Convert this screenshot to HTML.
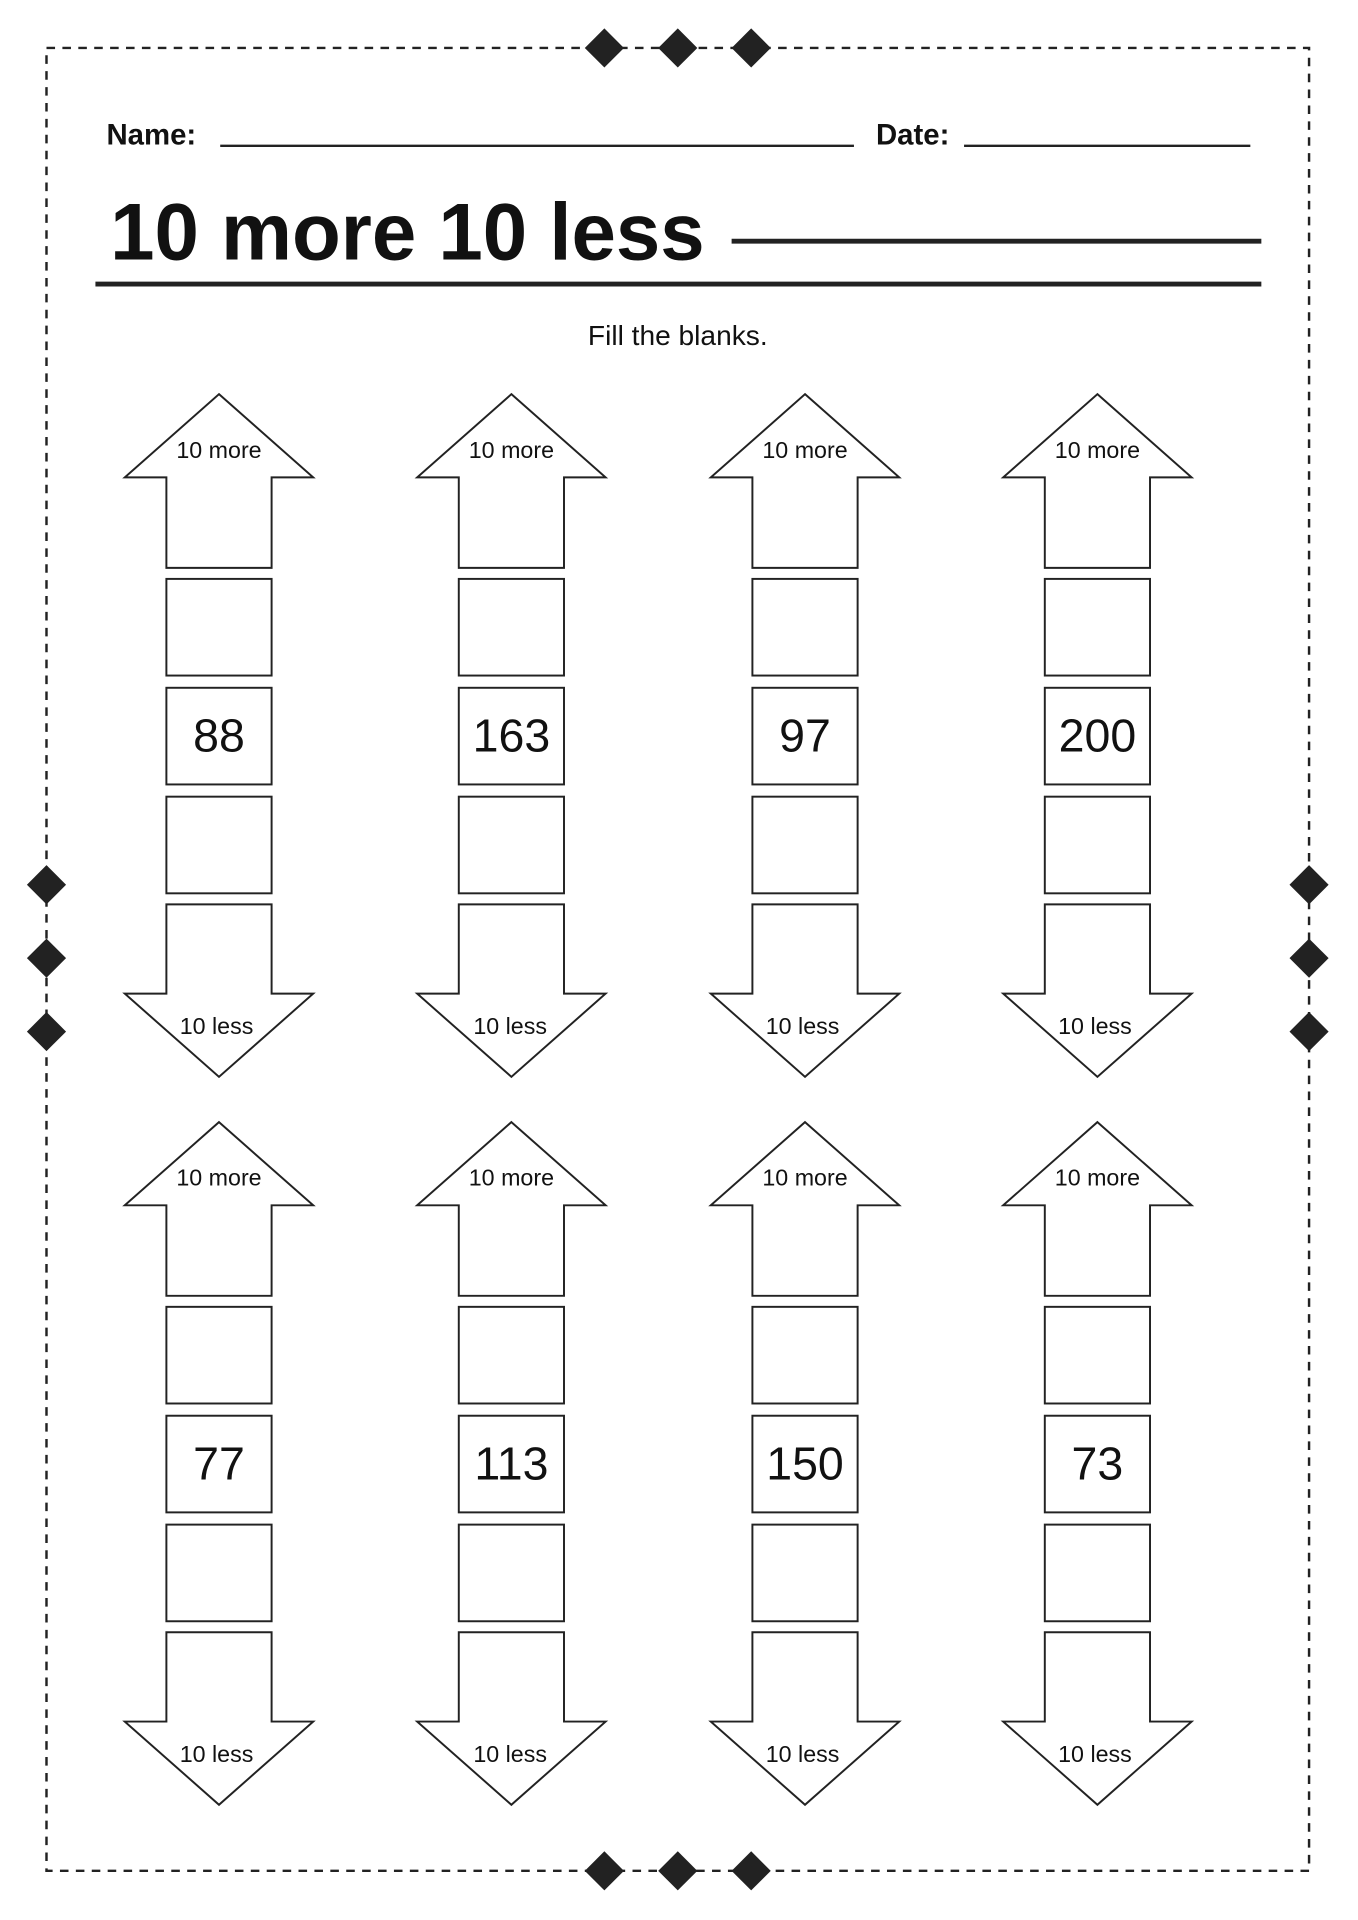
<!DOCTYPE html>
<html><head><meta charset="utf-8"><style>
html,body{margin:0;padding:0;background:#fff}
svg{display:block}
text{font-family:"Liberation Sans",sans-serif;fill:#111}
</style></head><body>
<svg width="1358" height="1920" viewBox="0 0 1110 1569" xmlns="http://www.w3.org/2000/svg">
<rect x="38" y="39" width="1032" height="1490" fill="none" stroke="#222" stroke-width="2" stroke-dasharray="7,6"/>
<g fill="#222">
<path d="M494 23l16 16-16 16-16-16z"/><path d="M554 23l16 16-16 16-16-16z"/><path d="M614 23l16 16-16 16-16-16z"/>
<path d="M494 1513l16 16-16 16-16-16z"/><path d="M554 1513l16 16-16 16-16-16z"/><path d="M614 1513l16 16-16 16-16-16z"/>
<path d="M38 707l16 16-16 16-16-16z"/><path d="M38 767l16 16-16 16-16-16z"/><path d="M38 827l16 16-16 16-16-16z"/>
<path d="M1070 707l16 16-16 16-16-16z"/><path d="M1070 767l16 16-16 16-16-16z"/><path d="M1070 827l16 16-16 16-16-16z"/>
</g>
<text x="87" y="118" font-size="24" font-weight="bold">Name:</text>
<line x1="180" y1="119" x2="698" y2="119" stroke="#222" stroke-width="2"/>
<text x="716" y="118" font-size="24" font-weight="bold">Date:</text>
<line x1="788" y1="119" x2="1022" y2="119" stroke="#222" stroke-width="2"/>
<text x="90" y="212" font-size="66" font-weight="bold" textLength="486" lengthAdjust="spacingAndGlyphs">10 more 10 less</text>
<line x1="598" y1="197" x2="1031" y2="197" stroke="#222" stroke-width="4"/>
<line x1="78" y1="232" x2="1031" y2="232" stroke="#222" stroke-width="4"/>
<text x="554" y="282" font-size="23" text-anchor="middle">Fill the blanks.</text>
<defs>
<g id="col" fill="#fff" stroke="#222" stroke-width="1.6">
<path d="M0 322L77 390H43V464H-43V390H-77Z"/>
<rect x="-43" y="473" width="86" height="79"/>
<rect x="-43" y="562" width="86" height="79"/>
<rect x="-43" y="651" width="86" height="79"/>
<path d="M-43 739H43V812H77L0 880L-77 812H-43Z"/>
</g>
</defs>
<g font-size="19" text-anchor="middle">
<use href="#col" x="179"/><use href="#col" x="418"/><use href="#col" x="658"/><use href="#col" x="897"/>
<use href="#col" x="179" y="595"/><use href="#col" x="418" y="595"/><use href="#col" x="658" y="595"/><use href="#col" x="897" y="595"/>
<text x="179" y="374">10 more</text><text x="418" y="374">10 more</text><text x="658" y="374">10 more</text><text x="897" y="374">10 more</text>
<text x="177" y="845">10 less</text><text x="417" y="845">10 less</text><text x="656" y="845">10 less</text><text x="895" y="845">10 less</text>
<text x="179" y="969">10 more</text><text x="418" y="969">10 more</text><text x="658" y="969">10 more</text><text x="897" y="969">10 more</text>
<text x="177" y="1440">10 less</text><text x="417" y="1440">10 less</text><text x="656" y="1440">10 less</text><text x="895" y="1440">10 less</text>
</g>
<g font-size="38" text-anchor="middle">
<text x="179" y="614">88</text><text x="418" y="614">163</text><text x="658" y="614">97</text><text x="897" y="614">200</text>
<text x="179" y="1209">77</text><text x="418" y="1209">113</text><text x="658" y="1209">150</text><text x="897" y="1209">73</text>
</g>
</svg>
</body></html>
